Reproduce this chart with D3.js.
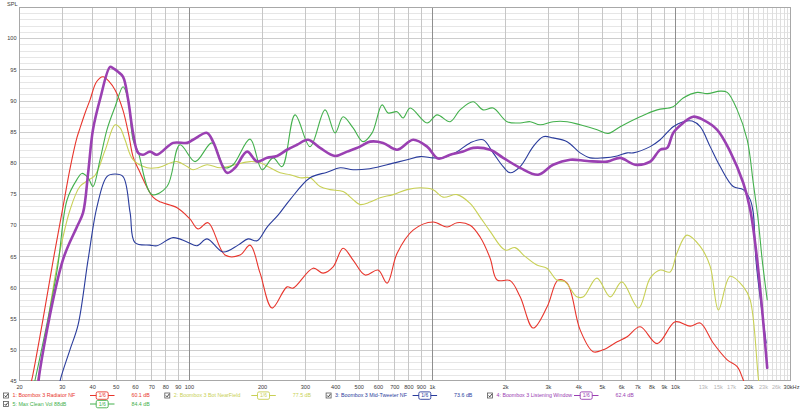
<!DOCTYPE html>
<html><head><meta charset="utf-8">
<script src="https://cdn.jsdelivr.net/npm/d3@7"></script>
<style>
html,body{margin:0;padding:0;background:#fff;}
svg{display:block;font-family:"Liberation Sans",Arial,sans-serif;}
</style></head><body>
<svg id="chart" width="800" height="412"></svg>
<script>
// ---------------- DATA ----------------
const redHz = [22.2,22.8,25.1,27.6,30.3,32.4,34.6,35.6,37.4,39.2,41.7,44.3,47.1,49.7,53.5,56.5,58.9,62,71.2,76.6,89.4,101,109,120,140.8,162.3,178.5,196.3,219.9,253.4,268.3,324.3,356.6,392,430.9,473.7,530.8,600.2,653.8,718.9,836.3,1011,1154,1269,1435,1578,1735,1854,2097,2306,2608,2977,3304,3598,4070,4604,5062,5780,6353,7187,8444,10014,11545,12692,14355,16393,18019,19077,20500];
const redDb = [44,46,54.9,64.2,72.8,79,84,85.5,88,90.1,93,93.8,93,91.7,88.5,84.6,81,79,74.5,73.7,72.8,71,69.4,70.4,65.2,65.2,66.8,62.3,56.7,60.1,59.9,63.1,62.3,63.3,66.3,64.4,62,62.8,60.7,65.5,69.2,70.5,69.7,70.4,70,68.1,64.7,61.2,61.1,58.5,53.5,56.9,61.2,60.7,53.2,49.7,50,51.3,52.1,53.7,51,54.5,53.8,54.3,51.1,48.4,47.3,45.2,42];

const yellowHz = [23.0,23.9,29.0,32.4,35.6,38.5,41.1,45.2,49.7,52.1,54.6,58.9,67.3,73.9,89.4,98.3,104,118.8,134.4,154.8,178.5,196.3,215.8,237.3,260.8,286.7,315.1,346.5,380.9,430.9,473.7,506.1,556.5,611.7,692.1,790.3,894,1011,1111,1269,1435,1578,1735,2000,2199,2379,2701,2969,3265,3531,3946,4200,4769,5410,6043,7072,7902,8687,9550,10177,11189,12692,13951,15095,16864,19125,20380,22050,22600];
const yellowDb = [43,45.2,64.5,72.4,76.2,77.2,78,82,86.1,85.6,83.7,80.5,79.2,79.2,80.2,79.4,78.9,79.7,79.2,79.7,80.2,80,79.2,78.4,78.1,77.6,77.6,76.2,75.7,75.4,74.1,73.3,73.7,74.4,74.9,75.7,76,75.7,74.5,74.9,73.5,71.3,69,66,66.4,65.2,63.6,63.1,61.2,60.9,58.5,58.5,61.5,58.5,60.9,56.7,61.5,62.8,62.5,65.5,68.4,66.6,63.4,56.4,61.8,60.1,58,45.2,42];

const blueHz = [29.0,29.5,32.4,35.0,38.5,41.9,46.0,49.7,53.6,57.3,60.0,69.2,73.9,86.1,98.3,108,118.8,138.2,159.3,175.2,190.8,209.8,232.7,260.8,315.1,370.3,418.8,473.7,541,653.8,790.3,894,1011,1111,1269,1435,1623,1785,1963,2097,2306,2608,2868,3151,3598,4070,4476,5062,5780,6353,6726,7902,8687,9826,10803,11765,12692,13951,15339,17352,19077,20380,20980,21570,23725];
const blueDb = [43,45,50,54,64.5,73,77.8,78.2,77.8,72,67.2,66.8,66.7,68,67.3,66.7,67.8,65.7,66.8,67.8,67.5,69.7,71.6,74.1,77.6,78.5,79.2,78.9,79,79.7,80.5,81,80.8,80.8,81.8,83.2,83.7,81.6,79.4,78.4,79.4,82.6,84.2,84,83.4,81.6,80.8,80.8,81.1,81.6,81.6,82.6,83.7,85.8,86.6,86.7,85.8,82.6,79.4,76.2,75.7,74.1,72,64,51.1];

const purpleHz = [23.8,24.4,30.3,34.6,36.7,38.5,40.3,43.1,47.4,48.7,51.1,53.6,56.2,58.9,61.8,64.8,69.2,73.9,86.1,98.3,104,118.8,125.7,143.6,154.8,173.5,190.8,209.8,230.5,253.4,278.6,309.3,346.5,399.4,447.5,506.1,556.5,629.3,718.9,836.3,955,1060,1188,1343,1477,1735,1963,2306,2734,3151,3702,4350,5258,5947,6855,7902,8687,9284,9826,10803,11876,13052,14909,16864,19077,20380,21780,23950];
const purpleDb = [43,46.8,64.4,69.7,72,78.4,85.3,90.2,95.4,95.2,94.6,93.8,90.2,84.8,81.6,81.3,81.8,81.3,83.2,83.2,83.7,84.8,83.4,78.4,79.2,81.8,80.2,80.8,81.1,82.1,82.9,83.7,82.4,81.1,81.8,82.6,83.4,83.2,82.1,83.7,82.6,80.7,81.3,81.8,82.4,82.1,80.8,79.2,78.1,79.7,80.5,80.3,80.2,80.8,79.7,80.2,82.1,82.4,84.8,86.4,87.4,86.9,85.3,81.8,76.8,72.5,64.4,47.1];

const greenHz = [22.6,23.3,28.7,31.5,34.6,36.3,38.5,40.3,43.1,46.0,49.7,53.6,56.2,58.9,61.8,70.5,81.3,91.9,106,124.5,140.8,152,178.5,200,222,241.8,273.4,315.1,363.3,399.4,430.9,473.7,520.7,567.3,623.4,660,718.9,760.8,813.2,955,1050,1188,1305,1477,1623,1785,2038,2306,2535,2786,3151,3598,4070,4782,5308,5947,7187,8444,9826,10803,12336,13563,15339,16393,18019,19814,20980,21990,22840,23950];
const greenDb = [43,45.2,62.8,74,77.3,78.3,77.6,76.2,80.5,85.3,89,92.2,90.2,83.7,81.8,74.9,76.2,82.9,80.2,83.2,79.2,79.7,83.8,78.9,80.8,79.4,87.7,82.6,88.5,84.8,87.4,85.6,83.4,84.8,89.3,88,88.2,87.2,88.8,86.4,87.7,86.6,88.5,89.8,88.5,88.8,86.6,86.4,86.6,86.1,86.6,86.6,86.1,85.3,84.7,85.8,87.4,88.5,89,90.4,91.3,91.1,91.5,91.3,88.5,83.7,76.8,70.8,64.4,58];

const seriesNames = ["1: Boombox 3 Radiator NF","2: Boombox 3 Bot NearField","3: Boombox 3 Mid-Tweeter NF","4: Boombox 3 Listening Window","5: Max Clean Vol 88dB"];
const seriesLevels = ["60.1 dB","77.5 dB","73.6 dB","62.4 dB","84.4 dB"];
const seriesSmoothing = ["1/6","1/6","1/6","1/6","1/6"];

const yTickValues = [45,50,55,60,65,70,75,80,85,90,95,100];
const xTickHz = [20,30,40,50,60,70,80,90,100,200,300,400,500,600,700,800,900,1000,2000,3000,4000,5000,6000,7000,8000,9000,10000,13000,15000,17000,20000,23000,26000,30000];
const xTickLabels = ["20","30","40","50","60","70","80","90","100","200","300","400","500","600","700","800","900","1k","2k","3k","4k","5k","6k","7k","8k","9k","10k","13k","15k","17k","20k","23k","26k","30kHz"];
const xTickMuted = ["13k","15k","17k","23k","26k"];
const yAxisTitle = "SPL";

// ---------------- STYLE / LAYOUT ----------------
const colors = ["#e8352c","#c8d055","#2a3c9c","#9a40b2","#43b04c"];
const widths = [1.1,1.1,1.1,2.6,1.1];
const drawOrder = [0,1,2,4,3];

const L = 19, R = 791, T = 7, B = 381;
const svg = d3.select("#chart");
const x = d3.scaleLog().domain([20,30000]).range([L,R]);
const y = d3.scaleLinear().domain([45,105]).range([B,T]);

// grid
const g = svg.append("g");
const hMinor = d3.range(46,105).filter(v=>v%5!==0);
g.selectAll(".hmin").data(hMinor).enter().append("line")
  .attr("x1",L).attr("x2",R).attr("y1",d=>Math.round(y(d))+0.5).attr("y2",d=>Math.round(y(d))+0.5)
  .attr("stroke","#e6e6e6").attr("stroke-width",1);
const hMajor = d3.range(50,105,5);
g.selectAll(".hmaj").data(hMajor).enter().append("line")
  .attr("x1",L).attr("x2",R).attr("y1",d=>Math.round(y(d))+0.5).attr("y2",d=>Math.round(y(d))+0.5)
  .attr("stroke","#cdcdcd").attr("stroke-width",1);

const vNormal = [];
[10,100,1000,10000].forEach(dec=>{ for(let k=2;k<=9;k++){ const f=dec*k; if(f>20 && f<30000) vNormal.push(f);} });
const vFine = [];
for(let k=11;k<=29;k++){ if(k!==20) vFine.push(k*1000); }
g.selectAll(".vfine").data(vFine).enter().append("line")
  .attr("y1",T).attr("y2",B).attr("x1",d=>Math.round(x(d))+0.5).attr("x2",d=>Math.round(x(d))+0.5)
  .attr("stroke","#dedede").attr("stroke-width",1);
g.selectAll(".vnorm").data(vNormal).enter().append("line")
  .attr("y1",T).attr("y2",B).attr("x1",d=>Math.round(x(d))+0.5).attr("x2",d=>Math.round(x(d))+0.5)
  .attr("stroke","#c6c6c6").attr("stroke-width",1);
g.selectAll(".vdec").data([100,1000,10000]).enter().append("line")
  .attr("y1",T).attr("y2",B).attr("x1",d=>Math.round(x(d))+0.5).attr("x2",d=>Math.round(x(d))+0.5)
  .attr("stroke","#8e8e8e").attr("stroke-width",1);

// border
svg.append("rect").attr("x",L+0.5).attr("y",T+0.5).attr("width",R-L-1).attr("height",B-T-1)
  .attr("fill","none").attr("stroke","#a8a8a8").attr("stroke-width",1);

// clip
svg.append("defs").append("clipPath").attr("id","plotclip")
  .append("rect").attr("x",L).attr("y",T).attr("width",R-L).attr("height",B-T);

const series = [
  {hz:redHz, db:redDb},
  {hz:yellowHz, db:yellowDb},
  {hz:blueHz, db:blueDb},
  {hz:purpleHz, db:purpleDb},
  {hz:greenHz, db:greenDb}
];
const line = d3.line().x(d=>x(d[0])).y(d=>y(d[1])).curve(d3.curveCatmullRom.alpha(0.5));
const lines = svg.append("g").attr("clip-path","url(#plotclip)");
drawOrder.forEach(i=>{
  const pts = series[i].hz.map((h,j)=>[h, series[i].db[j]]);
  lines.append("path").attr("d",line(pts)).attr("fill","none")
    .attr("stroke",colors[i]).attr("stroke-width",widths[i])
    .attr("stroke-linejoin","round").attr("stroke-linecap","round");
});

// axes
const xAxis = d3.axisBottom(x).tickValues(xTickHz).tickFormat((d,i)=>xTickLabels[i]).tickSize(0).tickPadding(0);
const xg = svg.append("g").attr("transform",`translate(0,${B})`).call(xAxis);
xg.select(".domain").remove();
xg.selectAll("text").attr("y",4).attr("dy","0.71em").attr("font-size","5.6px")
  .attr("font-family","'Liberation Sans',Arial,sans-serif")
  .attr("fill",(d,i)=>xTickMuted.includes(xTickLabels[i])?"#b4b4b4":"#3a3a3a");

const yAxis = d3.axisLeft(y).tickValues(yTickValues).tickSize(0).tickPadding(0);
const yg = svg.append("g").attr("transform",`translate(${L-2.5},0)`).call(yAxis);
yg.select(".domain").remove();
yg.selectAll("text").attr("x",0).attr("font-size","5.6px")
  .attr("font-family","'Liberation Sans',Arial,sans-serif").attr("fill","#3a3a3a");

svg.append("text").attr("x",7).attr("y",5.5).attr("font-size","5.6px").attr("fill","#3a3a3a").text(yAxisTitle);

// legend
const legendPos = [[3,395.5],[164.3,395.5],[325.6,395.5],[487,395.5],[3,404]];
const lg = svg.append("g").attr("font-size","5.3px");
seriesNames.forEach((name,i)=>{
  const [lx,ly] = legendPos[i];
  const it = lg.append("g").attr("transform",`translate(${lx},${ly})`);
  it.append("rect").attr("x",0.5).attr("y",-2.5).attr("width",5).attr("height",5)
    .attr("fill","#fff").attr("stroke","#5a5a5a").attr("stroke-width",0.8);
  it.append("path").attr("d","M1.6,0 L2.8,1.4 L4.8,-1.4").attr("fill","none").attr("stroke","#333").attr("stroke-width",0.9);
  it.append("text").attr("x",9.5).attr("y",0).attr("dy","0.35em").attr("fill",colors[i]).text(name);
  it.append("line").attr("x1",87).attr("x2",111.5).attr("y1",0).attr("y2",0).attr("stroke",colors[i]).attr("stroke-width",1);
  it.append("rect").attr("x",93.2).attr("y",-3.6).attr("width",12).attr("height",7.4).attr("rx",1.5)
    .attr("fill","#fff").attr("stroke",colors[i]).attr("stroke-width",0.9);
  it.append("text").attr("x",99.2).attr("y",0).attr("dy","0.35em").attr("text-anchor","middle")
    .attr("font-size","5px").attr("fill",colors[i]).text(seriesSmoothing[i]);
  it.append("text").attr("x",128.5).attr("y",0).attr("dy","0.35em").attr("fill",colors[i]).text(seriesLevels[i]);
});
</script>
</body></html>
